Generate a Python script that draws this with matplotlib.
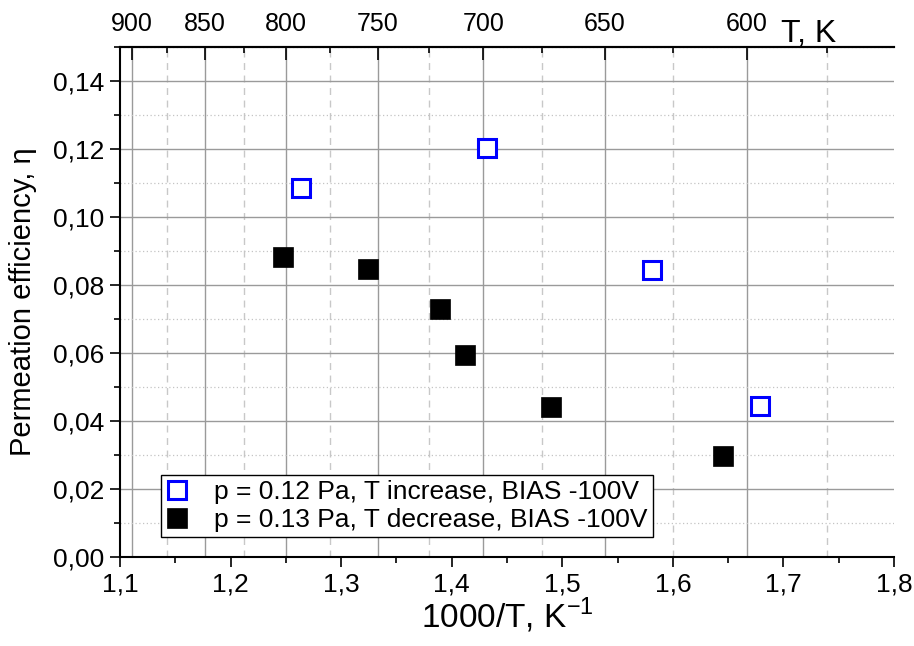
import numpy as np
import matplotlib
matplotlib.use("Agg")
import matplotlib.pyplot as plt
from matplotlib.ticker import MultipleLocator, FuncFormatter

plt.rcParams['font.family'] = ['Liberation Sans', 'DejaVu Sans']
plt.rcParams['axes.unicode_minus'] = False

# inverse temperature 1000/T and permeation efficiency
x_increase = [1.2636, 1.4321, 1.5812, 1.6787]
eta_increase = [0.1086, 0.1204, 0.0845, 0.0444]

x_decrease = [1.2478, 1.3246, 1.3896, 1.4122, 1.4899, 1.6453]
eta_decrease = [0.0883, 0.0847, 0.0730, 0.0594, 0.0441, 0.0296]

label_increase = 'p = 0.12 Pa, T increase, BIAS -100V'
label_decrease = 'p = 0.13 Pa, T decrease, BIAS -100V'

# temperature scale on the top axis
T_major = [900, 850, 800, 750, 700, 650, 600]
T_minor = [875, 825, 775, 725, 675, 625, 575]

fig = plt.figure(figsize=(9.14, 6.46), dpi=100)
ax = fig.add_axes([120 / 914, 89 / 646, 774 / 914, 510 / 646])

ax.set_xlim(1.1, 1.8)
ax.set_ylim(0, 0.15)

comma = FuncFormatter(lambda v, pos: ('%.2f' % v).replace('.', ','))
comma1 = FuncFormatter(lambda v, pos: ('%.1f' % v).replace('.', ','))
ax.yaxis.set_major_locator(MultipleLocator(0.02))
ax.yaxis.set_minor_locator(MultipleLocator(0.01))
ax.yaxis.set_major_formatter(comma)
ax.xaxis.set_major_locator(MultipleLocator(0.1))
ax.xaxis.set_minor_locator(MultipleLocator(0.05))
ax.xaxis.set_major_formatter(comma1)

ax.tick_params(which='major', direction='out', length=7, width=1.2, labelsize=19, pad=4)
ax.tick_params(which='minor', direction='out', length=4, width=1.2)

for side in ['left', 'bottom', 'top']:
    ax.spines[side].set_linewidth(1.5)
ax.spines['right'].set_visible(False)

# horizontal grid
ax.grid(which='major', axis='y', color='#9a9a9a', lw=1.0, zorder=0)
ax.grid(which='minor', axis='y', color='#c4c4c4', lw=0.9, ls=(0, (1, 2)), zorder=0)

# vertical grid follows the temperature ticks
inv_major = 1000 / np.array(T_major)
inv_minor = 1000 / np.array(T_minor)
for xv in inv_major:
    ax.axvline(xv, color='#9a9a9a', lw=1.0, zorder=0)
for xv in inv_minor:
    ax.axvline(xv, color='#c8c8c8', lw=1.0, ls=(0, (5, 4)), zorder=0)

ax.plot(x_increase, eta_increase, ls='none', marker='s', ms=13, mfc='white',
        mec='#0000ff', mew=2.2, label=label_increase, zorder=3)
ax.plot(x_decrease, eta_decrease, ls='none', marker='s', ms=14.5, mfc='black',
        mec='black', mew=0.5, label=label_decrease, zorder=3)

top = ax.secondary_xaxis('top')
top.set_xticks(inv_major, labels=[str(t) for t in T_major])
top.set_xticks(inv_minor, minor=True)
top.tick_params(which='major', direction='in', length=9, width=1.2, labelsize=18, pad=8)
top.tick_params(which='minor', direction='in', length=4, width=1.2)
top.spines['top'].set_linewidth(1.5)

fig.text(781 / 914, 1 - 42 / 646, 'T, K', fontsize=23, va='baseline', ha='left')

ax.set_xlabel(r'1000/T, K$^{\mathregular{-1}}$', fontsize=24, labelpad=0)
ax.set_ylabel('Permeation efficiency, \u03b7', fontsize=21, labelpad=12)

leg = ax.legend(loc='lower left', bbox_to_anchor=(0.053, 0.039), borderaxespad=0,
                fontsize=19, frameon=True, fancybox=False, framealpha=1,
                edgecolor='black', handlelength=0.8, handletextpad=1.0,
                borderpad=0.2, labelspacing=0.15)
leg.get_frame().set_linewidth(1.0)
leg.set_zorder(5)

fig.savefig('out.png', dpi=100)
